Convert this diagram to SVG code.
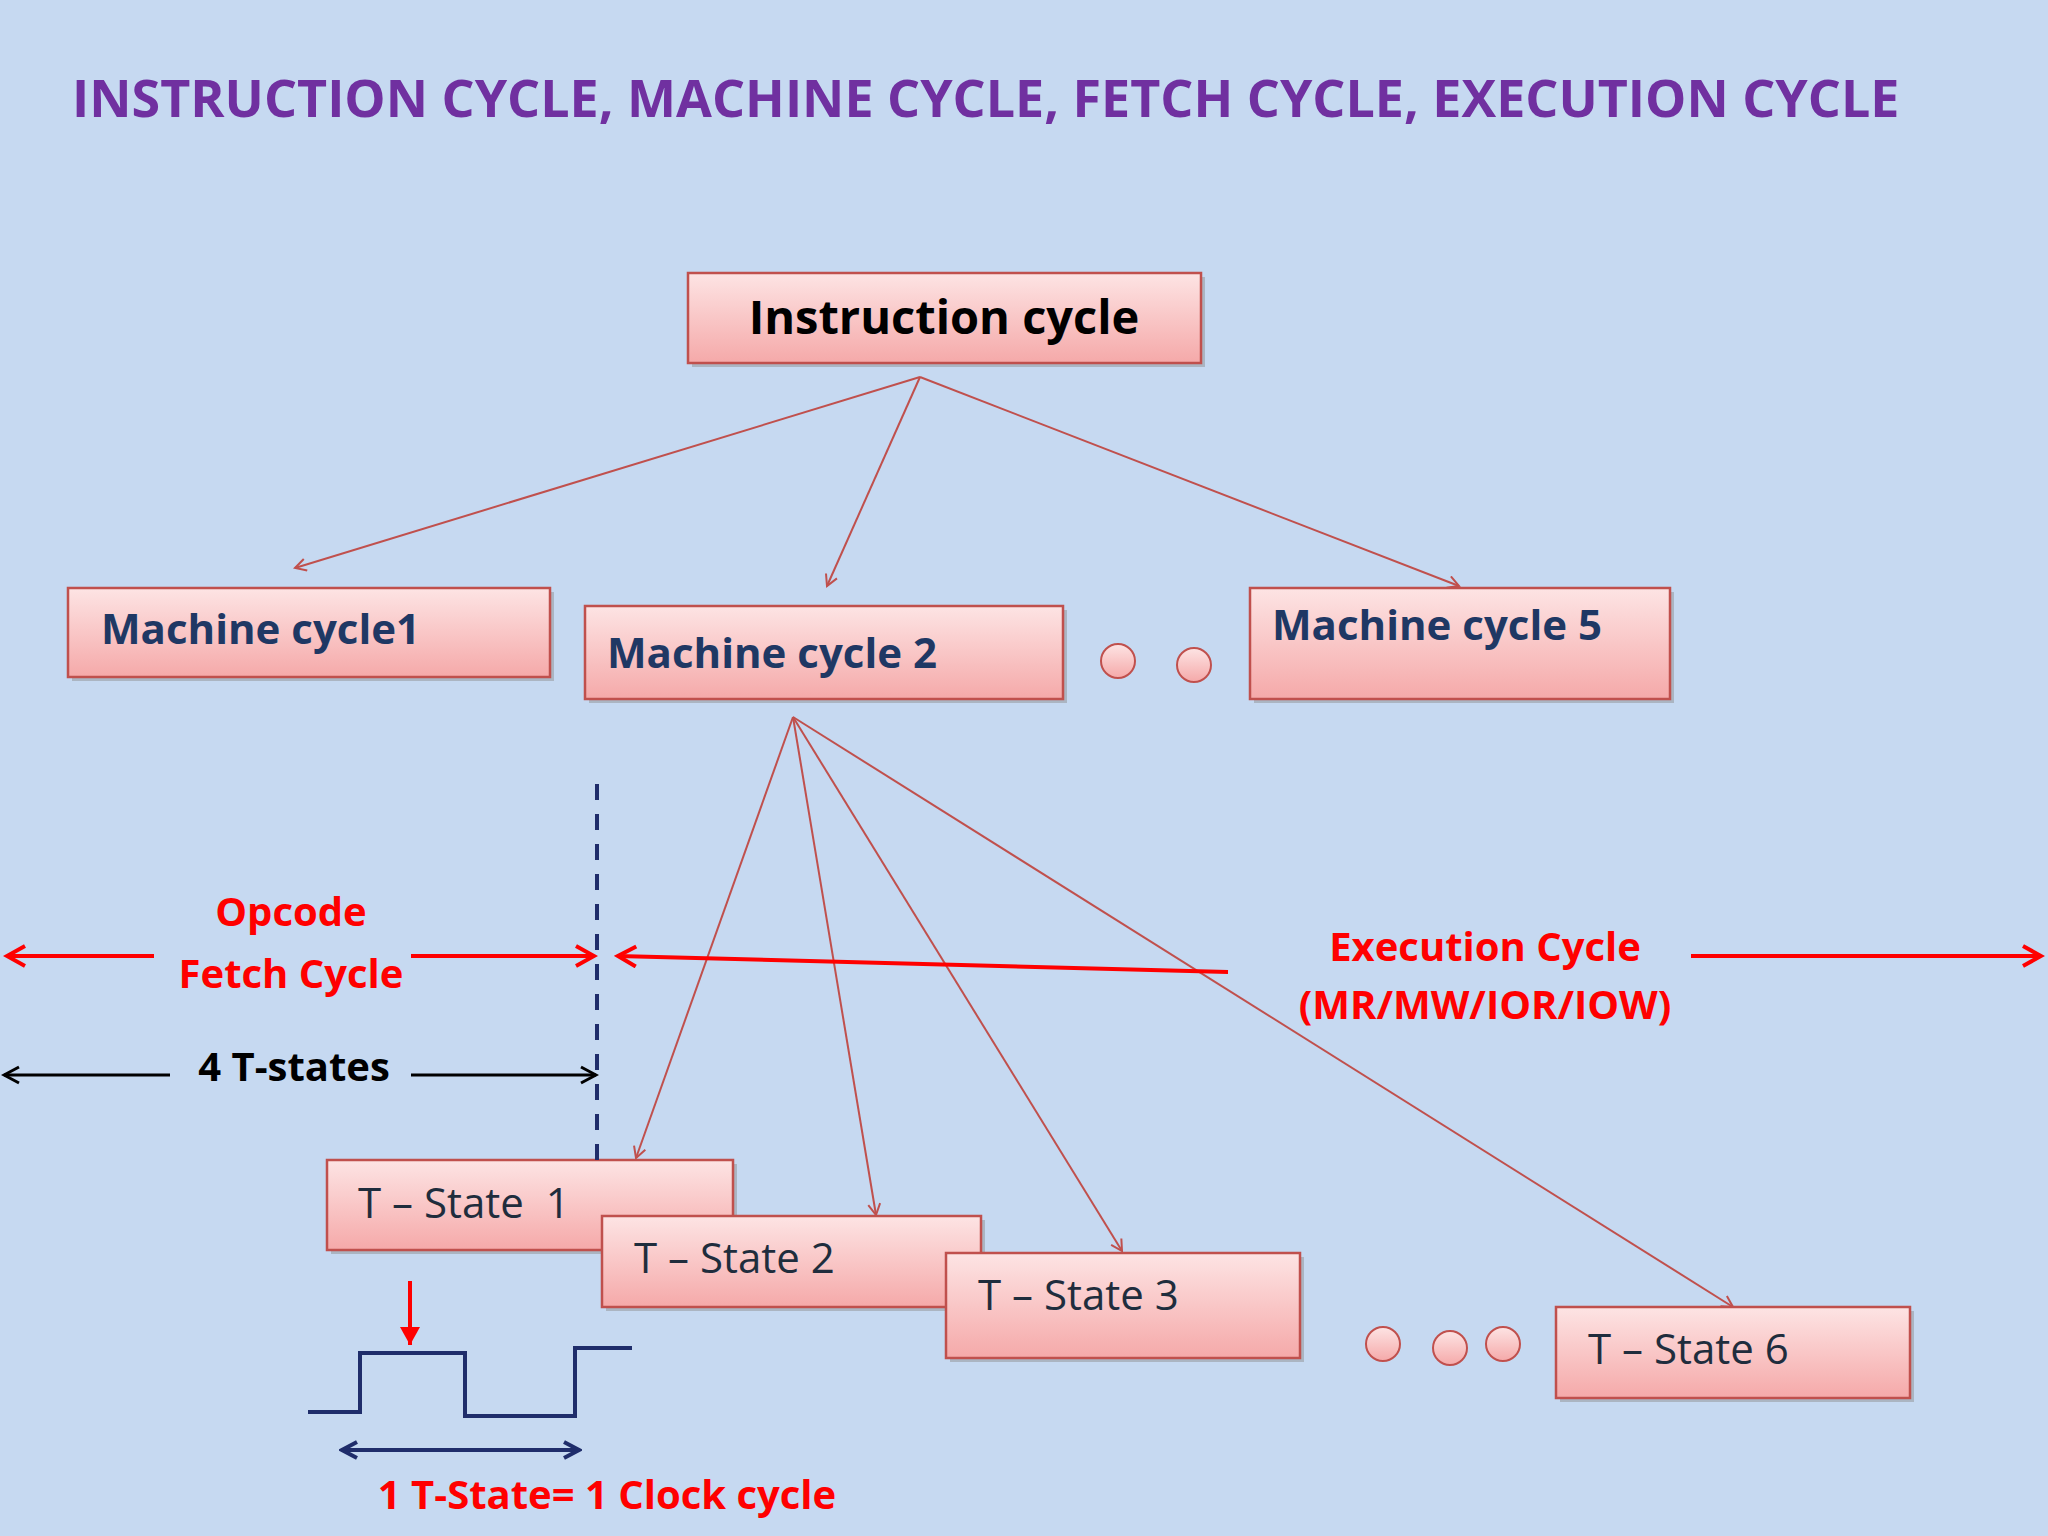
<svg xmlns="http://www.w3.org/2000/svg" width="2048" height="1536" viewBox="0 0 2048 1536">
<defs>
<linearGradient id="g" x1="0" y1="0" x2="0" y2="1"><stop offset="0" stop-color="#fde4e4"/><stop offset="1" stop-color="#f5a9a9"/></linearGradient>
<marker id="ta" markerWidth="14" markerHeight="14" refX="12" refY="7" orient="auto" markerUnits="userSpaceOnUse"><path d="M1,1 L12,7 L1,13" fill="none" stroke="#c0504d" stroke-width="2"/></marker>
<marker id="ra" markerWidth="24" markerHeight="24" refX="20" refY="12" orient="auto-start-reverse" markerUnits="userSpaceOnUse"><path d="M2,2 L20,12 L2,22" fill="none" stroke="#ff0000" stroke-width="4"/></marker>
<marker id="ka" markerWidth="20" markerHeight="20" refX="17" refY="10" orient="auto-start-reverse" markerUnits="userSpaceOnUse"><path d="M2,2 L17,10 L2,18" fill="none" stroke="#000" stroke-width="3"/></marker>
<marker id="na" markerWidth="20" markerHeight="20" refX="17" refY="10" orient="auto-start-reverse" markerUnits="userSpaceOnUse"><path d="M2,2 L17,10 L2,18" fill="none" stroke="#1f2d6b" stroke-width="4"/></marker>
<marker id="da" markerWidth="24" markerHeight="24" refX="20" refY="12" orient="auto" markerUnits="userSpaceOnUse"><path d="M2,2 L20,12 L2,22 Z" fill="#ff0000"/></marker>
</defs>
<style>
.box{fill:url(#g);stroke:#c0504d;stroke-width:2.5}
.sh{fill:#8a8a8a;opacity:0.45}
.t{font-family:"Open Sans","Liberation Sans",sans-serif}
.mc{font-size:42px;font-weight:bold;fill:#1f3864}
.ts{font-size:42px;fill:#1f2d3d}
.c{stroke:#c0504d;stroke-width:2;fill:none;marker-end:url(#ta)}
.dot{fill:url(#g);stroke:#c0504d;stroke-width:2}
.red{font-size:40px;font-weight:bold;fill:#ff0000}
</style>
<rect width="2048" height="1536" fill="#c6d9f1"/>
<text class="t" x="72" y="117" font-size="52" font-weight="bold" fill="#7030a0">INSTRUCTION CYCLE, MACHINE CYCLE, FETCH CYCLE, EXECUTION CYCLE</text>
<g id="ic"><rect class="sh" x="692" y="277" width="513" height="90"/><rect class="box" x="688" y="273" width="513" height="90"/><text class="t" x="944" y="334" font-size="47" font-weight="bold" text-anchor="middle" fill="#000">Instruction cycle</text></g>
<g id="mc1"><rect class="sh" x="72" y="592" width="482" height="89"/><rect class="box" x="68" y="588" width="482" height="89"/><text class="t mc" x="101" y="644">Machine cycle1</text></g>
<g id="mc2"><rect class="sh" x="589" y="610" width="478" height="93"/><rect class="box" x="585" y="606" width="478" height="93"/><text class="t mc" x="607" y="668">Machine cycle 2</text></g>
<g id="mc5"><rect class="sh" x="1254" y="592" width="420" height="111"/><rect class="box" x="1250" y="588" width="420" height="111"/><text class="t mc" x="1272" y="640">Machine cycle 5</text></g>
<g id="dots1"><circle class="dot" cx="1118" cy="661" r="17"/><circle class="dot" cx="1194" cy="665" r="17"/></g>
<g id="t1"><rect class="sh" x="331" y="1164" width="406" height="90"/><rect class="box" x="327" y="1160" width="406" height="90"/><text class="t ts" x="358" y="1218" xml:space="preserve">T – State  1</text></g>
<g id="t2"><rect class="sh" x="606" y="1220" width="379" height="91"/><rect class="box" x="602" y="1216" width="379" height="91"/><text class="t ts" x="634" y="1273">T – State 2</text></g>
<g id="t3"><rect class="sh" x="950" y="1257" width="354" height="105"/><rect class="box" x="946" y="1253" width="354" height="105"/><text class="t ts" x="978" y="1310">T – State 3</text></g>
<g id="t6"><rect class="sh" x="1560" y="1311" width="354" height="91"/><rect class="box" x="1556" y="1307" width="354" height="91"/><text class="t ts" x="1588" y="1364">T – State 6</text></g>
<g id="dots2"><circle class="dot" cx="1383" cy="1344" r="17"/><circle class="dot" cx="1450" cy="1348" r="17"/><circle class="dot" cx="1503" cy="1344" r="17"/></g>
<g id="connectors">
<line class="c" x1="920" y1="377" x2="295" y2="568"/>
<line class="c" x1="920" y1="377" x2="827" y2="586"/>
<line class="c" x1="920" y1="377" x2="1459" y2="586"/>
<line class="c" x1="793" y1="717" x2="636" y2="1158"/>
<line class="c" x1="793" y1="717" x2="876" y2="1215"/>
<line class="c" x1="793" y1="717" x2="1122" y2="1251"/>
<line class="c" x1="793" y1="717" x2="1733" y2="1307"/>
<line x1="597" y1="784" x2="597" y2="1160" stroke="#1f2d6b" stroke-width="4" stroke-dasharray="16,14"/>
<line x1="154" y1="956" x2="7" y2="956" stroke="#ff0000" stroke-width="4" marker-end="url(#ra)"/>
<line x1="411" y1="956" x2="594" y2="956" stroke="#ff0000" stroke-width="4" marker-end="url(#ra)"/>
<line x1="1228" y1="972" x2="618" y2="956" stroke="#ff0000" stroke-width="4" marker-end="url(#ra)"/>
<line x1="1691" y1="956" x2="2041" y2="956" stroke="#ff0000" stroke-width="4" marker-end="url(#ra)"/>
<line x1="170" y1="1075" x2="4" y2="1075" stroke="#000" stroke-width="3" marker-end="url(#ka)"/>
<line x1="411" y1="1075" x2="596" y2="1075" stroke="#000" stroke-width="3" marker-end="url(#ka)"/>
<polyline points="308,1412 360,1412 360,1353 465,1353 465,1416 575,1416 575,1348 632,1348" fill="none" stroke="#1f2d6b" stroke-width="4"/>
<line x1="410" y1="1281" x2="410" y2="1345" stroke="#ff0000" stroke-width="4" marker-end="url(#da)"/>
<line x1="342" y1="1450" x2="579" y2="1450" stroke="#1f2d6b" stroke-width="4" marker-start="url(#na)" marker-end="url(#na)"/>
</g>
<text class="t red" x="291" y="926" text-anchor="middle">Opcode</text>
<text class="t red" x="291" y="988" text-anchor="middle">Fetch Cycle</text>
<text class="t red" x="1485" y="961" text-anchor="middle">Execution Cycle</text>
<text class="t red" x="1485" y="1019" text-anchor="middle">(MR/MW/IOR/IOW)</text>
<text class="t" x="294" y="1081" font-size="40" font-weight="bold" fill="#000" text-anchor="middle">4 T-states</text>
<text class="t red" x="607" y="1509" text-anchor="middle">1 T-State= 1 Clock cycle</text>
</svg>
